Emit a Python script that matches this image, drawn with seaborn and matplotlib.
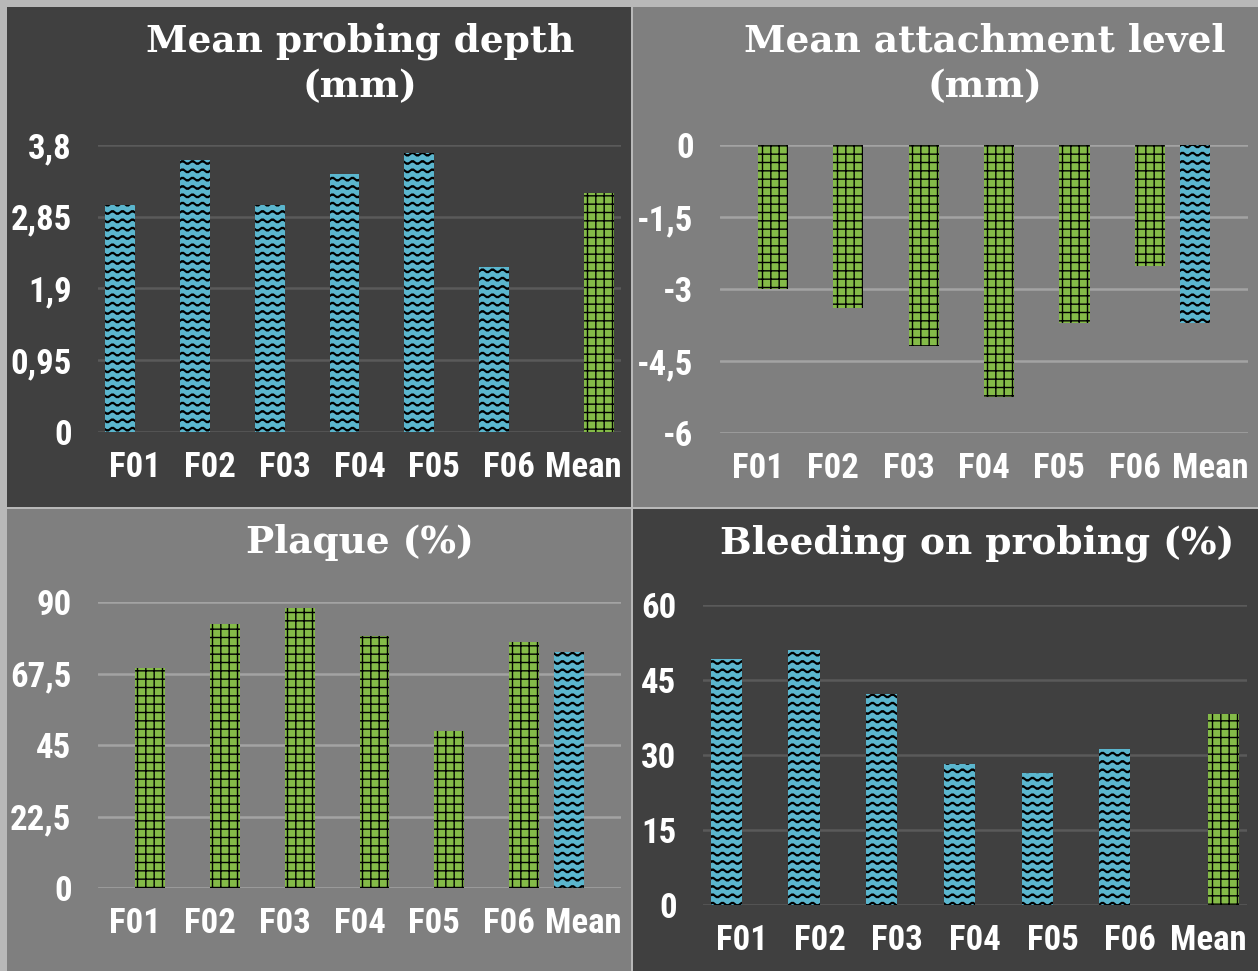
import numpy as np
import pandas as pd
import matplotlib
matplotlib.use("Agg")
import matplotlib.pyplot as plt
import matplotlib.hatch as mhatch
from matplotlib.path import Path
from matplotlib.patches import Rectangle
from matplotlib import font_manager
import seaborn as sns

# ---- data ----
categories = ["F01", "F02", "F03", "F04", "F05", "F06", "Mean"]
sites = categories[:-1]

probing_depth = [3.01, 3.60, 3.01, 3.41, 3.70, 2.19]
probing_depth_mean = 3.16
attachment_level = [-2.99, -3.39, -4.19, -5.25, -3.71, -2.52]
attachment_level_mean = -3.70
plaque = [69.2, 83.0, 88.0, 79.2, 49.4, 77.4]
plaque_mean = 74.2
bleeding = [49.2, 51.0, 42.2, 28.2, 26.4, 31.2]
bleeding_mean = 38.2

depth_ticks = [0, 0.95, 1.9, 2.85, 3.8]
attach_ticks = [-6, -4.5, -3, -1.5, 0]
plaque_ticks = [0, 22.5, 45, 67.5, 90]
bleed_ticks = [0, 15, 30, 45, 60]

BLUE = "#5bb6ce"
GREEN = "#84bb48"
DARK = "#404040"
GREY = "#7f7f7f"


# wavy horizontal hatch: '-' gives wavy lines, '+' keeps straight ones
class WavyHorizontal(mhatch.HatchPatternBase):
    PTS = 61

    def __init__(self, hatch, density):
        self.n_wave = int(hatch.count('-') * density)
        self.n_flat = int(hatch.count('+') * density)
        self.num_vertices = self.n_wave * self.PTS + self.n_flat * 2

    def set_vertices_and_codes(self, vertices, codes):
        t = np.linspace(0, 1, self.PTS)
        k = 0
        for i in range(self.n_wave):
            y = (i + 0.5) / self.n_wave
            vertices[k:k + self.PTS, 0] = t
            vertices[k:k + self.PTS, 1] = y + 0.015 * np.sin(2 * np.pi * 10 * t)
            codes[k:k + self.PTS] = Path.LINETO
            codes[k] = Path.MOVETO
            k += self.PTS
        for i in range(self.n_flat):
            y = (i + 0.5) / self.n_flat
            vertices[k] = (0, y)
            vertices[k + 1] = (1, y)
            codes[k] = Path.MOVETO
            codes[k + 1] = Path.LINETO
            k += 2


idx = mhatch._hatch_types.index(mhatch.HorizontalHatch)
mhatch._hatch_types[idx] = WavyHorizontal

sns.set_theme(style="white")
plt.rcParams["hatch.color"] = "black"
plt.rcParams["hatch.linewidth"] = 1.4

names = {f.name for f in font_manager.fontManager.ttflist}
tick_font = dict(family="Liberation Sans", weight="bold")
tick_size = 21.5
for cand in ["Liberation Sans Narrow", "Roboto Condensed", "Open Sans Condensed", "Arial Narrow"]:
    if cand in names:
        tick_font = dict(family=cand, weight="bold")
        tick_size = 25
        break
title_font = dict(family="DejaVu Serif", weight="bold", size=27, color="white")

W, H = 1258, 971
fig = plt.figure(figsize=(W / 100, H / 100), dpi=100)
fig.patch.set_facecolor("#b8b8b8")


def px_rect(x0, y0, x1, y1):
    return [x0 / W, 1 - y1 / H, (x1 - x0) / W, (y1 - y0) / H]


# panel backgrounds
for (x0, y0, x1, y1), col in [((7, 7, 631, 507), DARK), ((633, 7, 1258, 507), GREY),
                              ((7, 509, 631, 971), GREY), ((633, 509, 1258, 971), DARK)]:
    l, b, w, h = px_rect(x0, y0, x1, y1)
    fig.add_artist(Rectangle((l, b), w, h, transform=fig.transFigure,
                             facecolor=col, edgecolor="none", zorder=-10))


def make_frame(values, mean_value):
    return pd.DataFrame({
        "category": sites + ["Mean"],
        "value": list(values) + [mean_value],
        "series": ["sites"] * len(sites) + ["mean"],
    })


panels = [
    (probing_depth, probing_depth_mean, ["sites", "mean"], depth_ticks, (0, 3.8),
     px_rect(98, 145, 621, 432), "#5a5a5a", "Mean probing depth\n(mm)", (360, 64)),
    (attachment_level, attachment_level_mean, ["mean", "sites"], attach_ticks, (-6, 0),
     px_rect(720, 145, 1248, 433), "#a3a3a3", "Mean attachment level\n(mm)", (985, 64)),
    (plaque, plaque_mean, ["mean", "sites"], plaque_ticks, (0, 90),
     px_rect(98, 602, 621, 888), "#a3a3a3", "Plaque (%)", (360, 542)),
    (bleeding, bleeding_mean, ["sites", "mean"], bleed_ticks, (0, 60),
     px_rect(703, 605, 1247, 905), "#5a5a5a", "Bleeding on probing (%)", (977, 543)),
]

for values, mean_value, hue_order, ticks, ylim, rect, gridcol, title, (tx, ty) in panels:
    ax = fig.add_axes(rect)
    ax.set_facecolor("none")
    df = make_frame(values, mean_value)
    sns.barplot(data=df, x="category", y="value", hue="series", hue_order=hue_order,
                order=categories, palette=[BLUE, GREEN], saturation=1, dodge=True,
                errorbar=None, legend=False, ax=ax, zorder=3)
    for cont, hatch, hlw in zip(ax.containers, ["--", "++"], [1.5, 1.0]):
        for bar in cont:
            bar.set_hatch(hatch)
            bar.set_edgecolor("black")
            bar.set_linewidth(0)
            if hasattr(bar, "set_hatch_linewidth"):
                bar.set_hatch_linewidth(hlw)
    ax.set_ylim(*ylim)
    ax.set_xlim(-0.5, len(categories) - 0.5)
    ax.set_yticks(ticks)
    ax.set_yticklabels([f"{t:g}".replace(".", ",") for t in ticks])
    ax.set_xlabel("")
    ax.set_ylabel("")
    for s in ax.spines.values():
        s.set_visible(False)
    ax.grid(axis="y", color=gridcol, linewidth=1.8, zorder=0)
    ax.set_axisbelow(True)
    ax.tick_params(axis="y", length=0, pad=19, labelcolor="white")
    ax.tick_params(axis="x", length=0, pad=14, labelcolor="white")
    for lab in ax.get_xticklabels() + ax.get_yticklabels():
        lab.set_fontproperties(font_manager.FontProperties(size=tick_size, **tick_font))
    fig.text(tx / W, 1 - ty / H, title, ha="center", va="center",
             linespacing=1.3, **title_font)

fig.savefig("out.png", dpi=100, facecolor=fig.get_facecolor())
